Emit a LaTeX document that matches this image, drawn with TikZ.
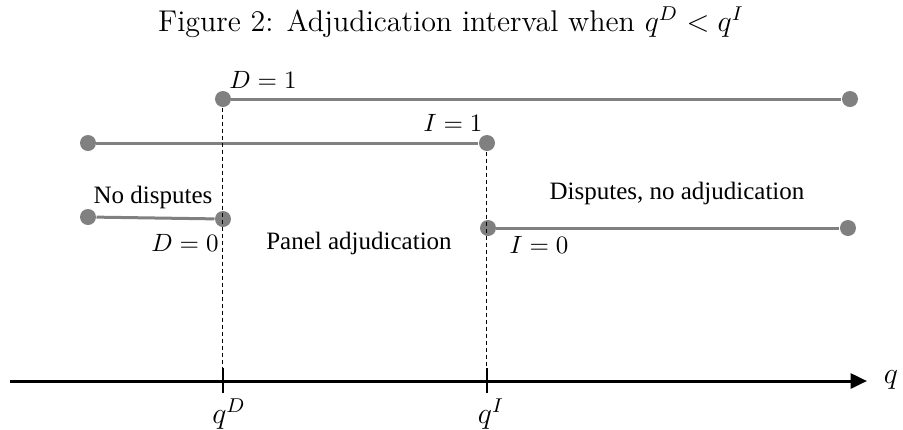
\documentclass[tikz,border=0pt]{standalone}
\usepackage{fontspec}
\usepackage{xcolor}
\usepackage{tikz}
\usetikzlibrary{arrows.meta, positioning}
\newfontfamily\lblfont{Liberation Serif}
\definecolor{seggray}{RGB}{128,128,128}
\tikzstyle{dot} = [circle, fill=seggray, inner sep=0pt, minimum size=6.4pt]
\tikzstyle{seg} = [draw=seggray, line width=1.2pt]
\tikzstyle{guide} = [draw=black, dashed, dash pattern=on 1.6pt off 1.2pt, line width=0.4pt]
\tikzstyle{lbl} = [font=\lblfont\normalsize, inner sep=1pt]
\tikzstyle{qlbl} = [font=\large, inner sep=0pt, anchor=base]
\tikzstyle{axis} = [-{Triangle[length=2.3mm, width=2.1mm]}, line width=1.2pt]

\begin{document}
\begin{tikzpicture}[x=0.4pt, y=-0.4pt]
    \useasboundingbox (0,0) rectangle (903,429);
    \node[font=\large] (title) at (451,22) {Figure 2: Adjudication interval when $q^D<q^I$};
    % dots
    \node[dot] (d1a) at (223,99)  {};
    \node[dot] (d1b) at (850,99)  {};
    \node[dot] (i1a) at (88,143)  {};
    \node[dot] (i1b) at (487,143) {};
    \node[dot] (d0a) at (88,217)  {};
    \node[dot] (d0b) at (223,219) {};
    \node[dot] (i0a) at (488,228) {};
    \node[dot] (i0b) at (848,228) {};
    \draw[seg] (d1a) -- (d1b);
    \draw[seg] (i1a) -- (i1b);
    \draw[seg] (d0a) -- (d0b);
    \draw[seg] (i0a) -- (i0b);
    % axis
    \coordinate (ax0) at (10,381);
    \coordinate (ax1) at (867,381);
    \coordinate (tD) at (223,368);
    \coordinate (tDb) at (223,393);
    \coordinate (tI) at (487,368);
    \coordinate (tIb) at (487,393);
    \draw[guide] (d1a) -- (tD);
    \draw[guide] (i1b) -- (tI);
    \draw[line width=0.5pt] (tD) -- (tDb);
    \draw[line width=0.5pt] (tI) -- (tIb);
    \draw[axis] (ax0) -- (ax1);
    \node[qlbl] (qlab) at (891,383) {$q$};
    \node[qlbl] (qD) at (229,423) {$q^D$};
    \node[qlbl] (qI) at (491,423) {$q^I$};
    % labels
    \node[lbl] (l1) at (263,80)  {$D=1$};
    \node[lbl] (l2) at (453,123) {$I=1$};
    \node[lbl] (l3) at (153,197) {No disputes};
    \node[lbl] (l4) at (185,243) {$D=0$};
    \node[lbl] (l5) at (359,243) {Panel adjudication};
    \node[lbl] (l6) at (677,193) {Disputes, no adjudication};
    \node[lbl] (l7) at (539,245) {$I=0$};
\end{tikzpicture}
\end{document}
